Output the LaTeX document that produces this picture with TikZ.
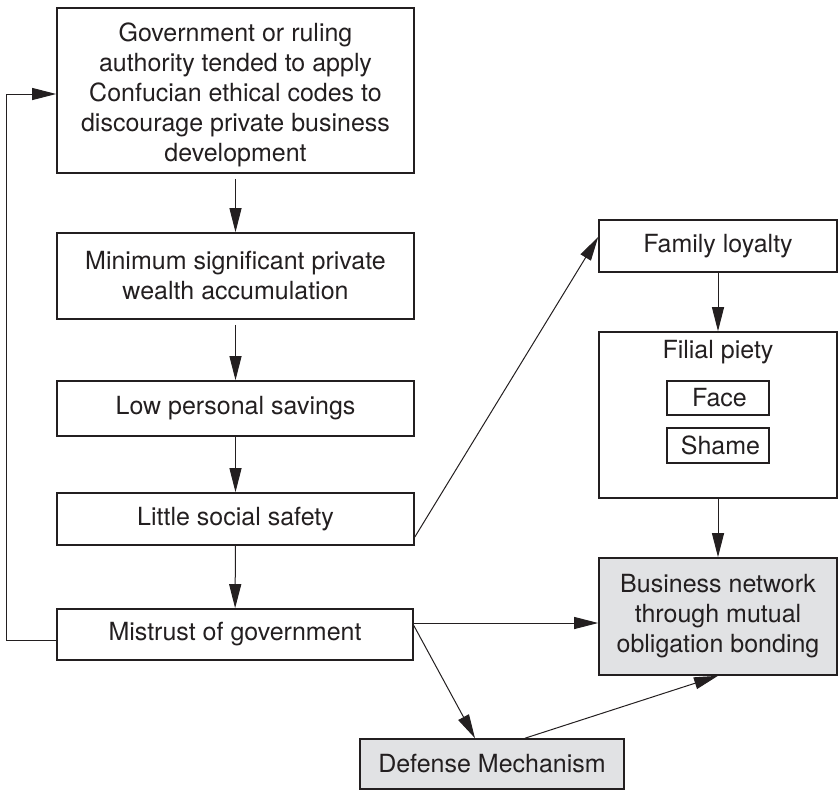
\documentclass[tikz,border=0pt]{standalone}
\usepackage{fontspec}
\setmainfont{TeX Gyre Heros}
\usetikzlibrary{arrows.meta}
\definecolor{ink}{HTML}{231F20}
\definecolor{shade}{HTML}{E1E2E4}
\begin{document}
\begin{tikzpicture}[x=1pt,y=-1pt,
  box/.style={draw=ink, line width=1.6pt, inner sep=0pt, align=center,
    text=ink, font=\fontsize{25}{30}\selectfont},
  graybox/.style={box, fill=shade},
  tag/.style={inner sep=0pt, align=center, text=ink,
    font=\fontsize{25}{30}\selectfont},
  arrow/.style={draw=ink, line width=1pt,
    -{Triangle[length=24pt,width=12pt]}}]
\useasboundingbox (0,0) rectangle (838,790);

% main chain on the left
\node[box, minimum width=357pt, minimum height=165pt] (gov) at (235.5,90.5) {};
\node[tag] (govtxt) at (235.5,95)
  {Government or ruling\\authority tended to apply\\Confucian ethical codes to\\discourage private business\\development};
\node[box, minimum width=357pt, minimum height=86pt] (wealth) at (235.5,276)
  {Minimum significant private\\wealth accumulation};
\node[box, minimum width=357pt, minimum height=55pt] (savings) at (235.5,408.5)
  {Low personal savings};
\node[box, minimum width=357pt, minimum height=52pt] (safety) at (235.5,519)
  {Little social safety};
\node[box, minimum width=356pt, minimum height=51pt] (mistrust) at (235,634.5)
  {Mistrust of government};

% right column
\node[box, minimum width=238pt, minimum height=52pt] (family) at (718,246)
  {Family loyalty};
\node[box, minimum width=238pt, minimum height=166pt] (filial) at (718,415) {};
\node[tag] (filialtxt) at (718,352) {Filial piety};
\node[box, minimum width=102pt, minimum height=34pt] (face) at (718,398) {\hspace*{3pt}Face};
\node[box, minimum width=102pt, minimum height=35pt] (shame) at (718,445.5) {\hspace*{5pt}Shame};
\node[graybox, minimum width=238pt, minimum height=117pt] (network) at (718,616.5)
  {Business network\\through mutual\\obligation bonding};
\node[graybox, minimum width=264pt, minimum height=50pt] (defense) at (492,764)
  {Defense Mechanism};

% vertical flow
\draw[arrow, shorten <=5pt] (gov) -- (wealth);
\draw[arrow, shorten <=5pt] (wealth) -- (savings);
\draw[arrow] (savings) -- (safety);
\draw[arrow] (safety) -- (mistrust);
\draw[arrow] (family) -- (filial);
\draw[arrow] (filial) -- (network);

% feedback loop back to the top box
\coordinate (loopbot) at (6,640);
\coordinate (looptop) at (6,94);
\draw[arrow] (mistrust.west |- loopbot) -- (loopbot) -- (looptop) -- (gov.west |- looptop);

% cross links
\coordinate (mout) at ([yshift=11.5pt]mistrust.east);
\draw[arrow] ([yshift=-18pt]safety.east) -- ([yshift=9pt]family.west);
\draw[arrow] (mout) -- (network.west |- mout);
\draw[arrow] ([yshift=9pt]mistrust.east) -- ([xshift=-17pt]defense.north);
\draw[arrow] ([xshift=33pt]defense.north) -- (network.south);
\end{tikzpicture}
\end{document}
